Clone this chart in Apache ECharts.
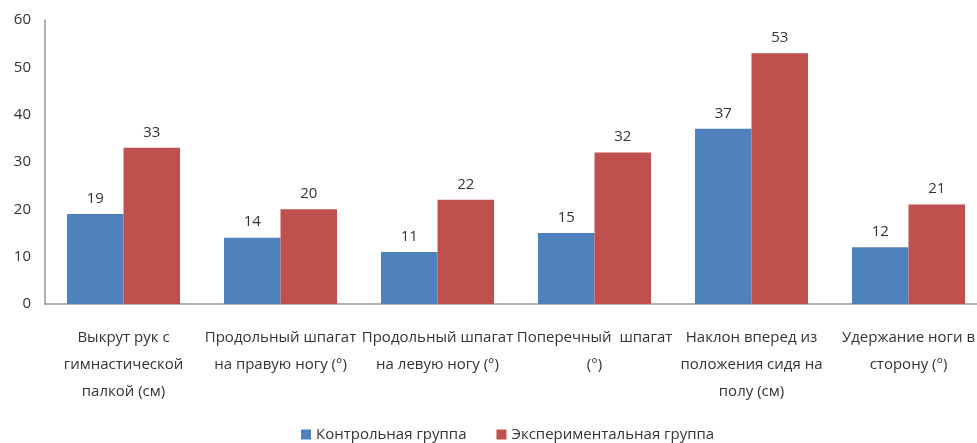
<!DOCTYPE html>
<html>
<head>
<meta charset="utf-8">
<script src="https://cdn.jsdelivr.net/npm/echarts@6/dist/echarts.min.js"></script>
<style>
  html, body { margin: 0; padding: 0; background: #fff; }
  #chart { width: 977px; height: 443px; }
</style>
</head>
<body>
<div id="chart"></div>
<script>
// данные
const categories = [
  'Выкрут рук с\nгимнастической\nпалкой (см)',
  'Продольный шпагат\nна правую ногу (°)',
  'Продольный шпагат\nна левую ногу (°)',
  'Поперечный  шпагат\n(°)',
  'Наклон вперед из\nположения сидя на\nполу (см)',
  'Удержание ноги в\nсторону (°)'
]
const controlValues = [19, 14, 11, 15, 37, 12]
const experimentValues = [33, 20, 22, 32, 53, 21]
const seriesNames = ['Контрольная группа', 'Экспериментальная группа']

const fontFamily = 'Open Sans, Liberation Sans, sans-serif'

const chart = echarts.init(document.getElementById('chart'))

const labelStyle = {
  show: true,
  position: 'top',
  distance: 8,
  color: '#333',
  fontSize: 15,
  fontFamily: fontFamily
}

const option = {
  animation: false,
  textStyle: { fontFamily: fontFamily },
  legend: {
    data: seriesNames,
    bottom: -4,
    left: 296,
    itemWidth: 10,
    itemHeight: 10,
    itemGap: 30,
    icon: 'rect',
    textStyle: { color: '#333', fontSize: 15, fontFamily: fontFamily }
  },
  grid: {
    left: 45,
    top: 20,
    width: 942,
    bottom: 139,
    outerBoundsMode: 'none'
  },
  xAxis: {
    type: 'category',
    data: categories,
    axisLine: { lineStyle: { color: '#999', width: 1.5 } },
    axisTick: { show: false },
    axisLabel: {
      interval: 0,
      margin: 20,
      color: '#333',
      fontSize: 15,
      lineHeight: 27,
      fontFamily: fontFamily
    }
  },
  yAxis: {
    type: 'value',
    min: 0,
    max: 60,
    interval: 10,
    axisLine: { show: true, lineStyle: { color: '#999', width: 1.5 } },
    axisTick: { show: false },
    splitLine: { show: false },
    axisLabel: { color: '#333', fontSize: 15, margin: 14, fontFamily: fontFamily }
  },
  series: [
    {
      name: seriesNames[0],
      type: 'bar',
      data: controlValues,
      barWidth: '36%',
      barGap: '0%',
      itemStyle: { color: '#4F81BD' },
      label: labelStyle
    },
    {
      name: seriesNames[1],
      type: 'bar',
      data: experimentValues,
      barWidth: '36%',
      barGap: '0%',
      itemStyle: { color: '#C0504D' },
      label: labelStyle
    }
  ]
}

chart.setOption(option)
</script>
</body>
</html>
